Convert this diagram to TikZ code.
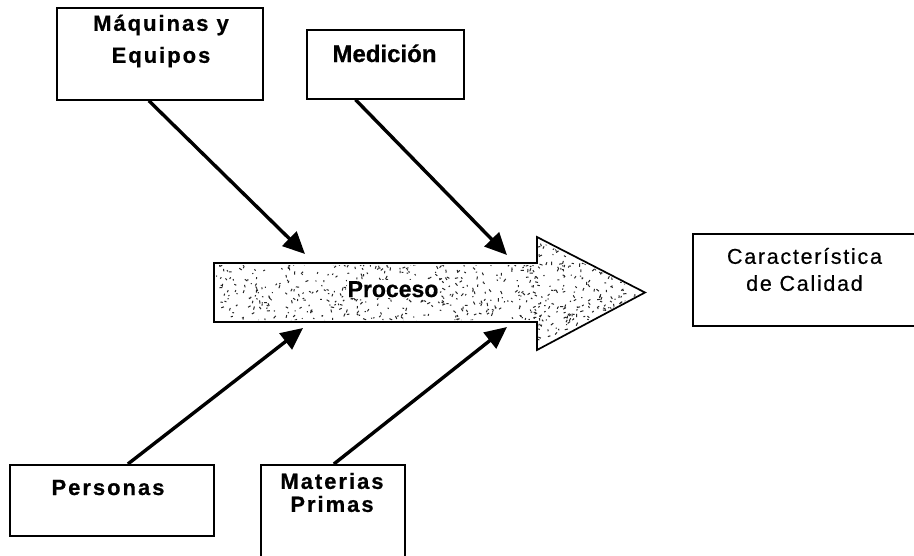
\documentclass[tikz,border=0pt]{standalone}
\usepackage{fontspec}
\setmainfont{Liberation Sans}
\newfontfamily\causefont{Liberation Sans}[LetterSpace=9,FakeBold=0.6]
\newfontfamily\medfont{Liberation Sans}[LetterSpace=0,FakeBold=0.6]
\newfontfamily\effectfont{Liberation Sans}[LetterSpace=8,FakeBold=0.4]
\usetikzlibrary{arrows.meta,calc}

\begin{document}
\begin{tikzpicture}[x=1pt,y=-1pt,
  box/.style={draw=black, line width=1.7pt, fill=white, inner sep=0pt, anchor=north west},
  causetxt/.style={font=\causefont\bfseries\fontsize{22}{32}\selectfont, align=center, inner sep=0pt},
  effecttxt/.style={font=\effectfont\fontsize{21.5}{27}\selectfont, align=center, inner sep=0pt},
  proctxt/.style={font=\medfont\bfseries\fontsize{23}{28}\selectfont, inner sep=1pt},
  cause/.style={line width=3.4pt, -{Triangle[length=22pt,width=20pt]}},
  procedge/.style={draw=black, line width=1.7pt}
]
\useasboundingbox (0,0) rectangle (914,555);

% cause and effect boxes
\node[box, minimum width=206, minimum height=92] (maq) at (56,7) {};
\node[box, minimum width=157, minimum height=69] (med) at (306,29) {};
\node[box, minimum width=240, minimum height=92] (car) at (692,233) {};
\node[box, minimum width=204, minimum height=71] (per) at (9,464) {};
\node[box, minimum width=144, minimum height=92] (mat) at (260,464) {};

% box labels
\node[causetxt] (maqt) at (161,41) {Máquinas y\\Equipos};
\node[causetxt, font=\medfont\bfseries\fontsize{24}{28}\selectfont, anchor=base] (medt) at (384.5,62) {Medición};
\node[effecttxt] (cart) at (804.5,269.5) {Característica\\de Calidad};
\node[causetxt, anchor=base] (pert) at (108,495) {Personas};
\node[causetxt, font=\causefont\bfseries\fontsize{22}{23}\selectfont] (matt) at (332,492.5) {Materias\\Primas};

% the process arrow with a speckled fill
\path[fill=white] (214,263) -- (537,263) -- (537,237) -- (645,292.5)
  -- (537,350) -- (537,322) -- (214,322) -- cycle;
\begin{scope}
  \clip (216,265) -- (537,265) -- (537,240) -- (642,292.5)
    -- (537,347) -- (537,320) -- (216,320) -- cycle;
  \pgfmathsetseed{4711}
  \foreach \i in {1,...,1200} {
    \pgfmathsetmacro{\px}{216+428*rnd}
    \pgfmathsetmacro{\py}{238+111*rnd}
    \pgfmathsetmacro{\pa}{360*rnd}
    \pgfmathsetmacro{\pl}{1+2.4*rnd}
    \fill[black!85] (\px,\py) -- ++(\pa:\pl) -- ++(\pa+90:1) -- ++(\pa+180:\pl) -- cycle;
  }
\end{scope}
\path[procedge] (214,263) -- (537,263) -- (537,237) -- (645,292.5)
  -- (537,350) -- (537,322) -- (214,322) -- cycle;
\node[proctxt, fill=white, anchor=base] (proc) at (393,297) {Proceso};

% points where the causes meet the process
\coordinate (tipA) at (305,254);
\coordinate (tipB) at (507,255);
\coordinate (tipC) at (303,328);
\coordinate (tipD) at (507,327);

% cause arrows
\draw[cause] ($(maq.south west)!0.447!(maq.south east)$) -- (tipA);
\draw[cause] ($(med.south west)!0.312!(med.south east)$) -- (tipB);
\draw[cause] ($(per.north west)!0.578!(per.north east)$) -- (tipC);
\draw[cause] ($(mat.north west)!0.507!(mat.north east)$) -- (tipD);
\end{tikzpicture}
\end{document}
